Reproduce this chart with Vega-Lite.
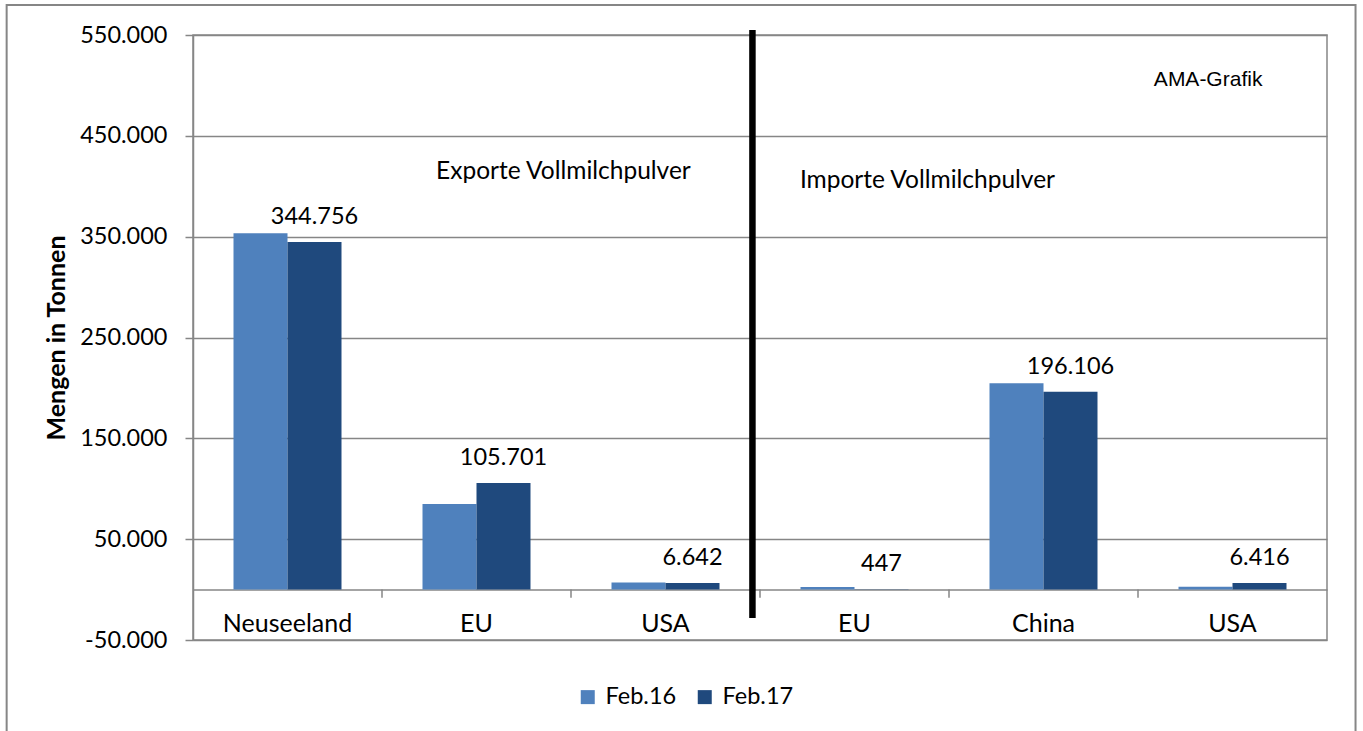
{
  "$schema": "https://vega.github.io/schema/vega-lite/v6.json",
  "width": 1134,
  "height": 605,
  "autosize": {"type": "none"},
  "padding": {"left": 193, "top": 35, "right": 36, "bottom": 91},
  "background": "white",
  "config": {
    "font": "Lato",
    "locale": {"number": {"decimal": ",", "thousands": ".", "grouping": [3], "currency": ["", " €"], "minus": "-"}},
    "view": {"stroke": "#868686", "strokeWidth": 1.5}
  },
  "datasets": {
    "bars": [
      {"cat": "Neuseeland", "period": "Feb.16", "value": 353300},
      {"cat": "Neuseeland", "period": "Feb.17", "value": 344756},
      {"cat": "EU (Export)", "period": "Feb.16", "value": 85000},
      {"cat": "EU (Export)", "period": "Feb.17", "value": 105701},
      {"cat": "USA (Export)", "period": "Feb.16", "value": 7100},
      {"cat": "USA (Export)", "period": "Feb.17", "value": 6642},
      {"cat": "EU (Import)", "period": "Feb.16", "value": 2600},
      {"cat": "EU (Import)", "period": "Feb.17", "value": 447},
      {"cat": "China", "period": "Feb.16", "value": 204600},
      {"cat": "China", "period": "Feb.17", "value": 196106},
      {"cat": "USA (Import)", "period": "Feb.16", "value": 2900},
      {"cat": "USA (Import)", "period": "Feb.17", "value": 6416}
    ],
    "separators": [{"b": 1}, {"b": 2}, {"b": 3}, {"b": 4}, {"b": 5}],
    "one": [{"k": 1}]
  },
  "layer": [
    {
      "data": {"name": "bars"},
      "mark": {"type": "bar"},
      "encoding": {
        "x": {
          "field": "cat", "type": "nominal", "sort": null,
          "scale": {"domain": ["Neuseeland", "EU (Export)", "USA (Export)", "EU (Import)", "China", "USA (Import)"], "paddingInner": 0.4286, "paddingOuter": 0.2143},
          "axis": {
            "title": null, "orient": "bottom", "offset": -50.4,
            "labelExpr": "split(datum.label, ' (')[0]",
            "labelAngle": 0, "labelFontSize": 25, "labelColor": "black", "labelFont": "Lato",
            "ticks": false, "labelPadding": 22,
            "domainColor": "#868686", "domainWidth": 1.5, "grid": false
          }
        },
        "xOffset": {"field": "period", "type": "nominal", "scale": {"domain": ["Feb.16", "Feb.17"], "paddingInner": 0, "paddingOuter": 0}},
        "y": {
          "field": "value", "type": "quantitative",
          "scale": {"domain": [-50000, 550000], "nice": false, "zero": false},
          "axis": {
            "values": [-50000, 50000, 150000, 250000, 350000, 450000, 550000],
            "format": ",.0f",
            "title": "Mengen in Tonnen", "titleFontSize": 25, "titleFontWeight": "bold", "titleColor": "black", "titlePadding": 10, "titleFont": "Lato",
            "labelFontSize": 23.5, "labelColor": "black", "labelPadding": 18, "labelFont": "Lato",
            "tickSize": 8, "tickColor": "#868686", "tickWidth": 1.5,
            "domainColor": "#868686", "domainWidth": 1.5,
            "grid": true, "gridColor": "#868686", "gridWidth": 1.5
          }
        },
        "color": {
          "field": "period", "type": "nominal",
          "scale": {"domain": ["Feb.16", "Feb.17"], "range": ["#4F81BD", "#1F497D"]},
          "legend": {
            "title": null, "orient": "none", "direction": "horizontal",
            "legendX": 383, "legendY": 650, "padding": 0,
            "symbolType": "square", "symbolSize": 196, "symbolStrokeWidth": 0,
            "labelFontSize": 23.5, "labelColor": "black", "labelFont": "Lato", "labelOffset": 6,
            "columnPadding": 16
          }
        }
      }
    },
    {
      "data": {"name": "bars"},
      "transform": [{"filter": "datum.period === 'Feb.17'"}],
      "mark": {"type": "text", "baseline": "alphabetic", "dy": -18, "dx": -27, "fontSize": 23.5, "font": "Lato", "color": "black"},
      "encoding": {
        "x": {"field": "cat", "type": "nominal", "sort": null,
          "scale": {"domain": ["Neuseeland", "EU (Export)", "USA (Export)", "EU (Import)", "China", "USA (Import)"], "paddingInner": 0.4286, "paddingOuter": 0.2143},
          "axis": null},
        "xOffset": {"field": "period", "type": "nominal", "scale": {"domain": ["Feb.16", "Feb.17"], "paddingInner": 0, "paddingOuter": 0}},
        "y": {"field": "value", "type": "quantitative", "scale": {"domain": [-50000, 550000], "nice": false, "zero": false}},
        "text": {"field": "value", "type": "quantitative", "format": ",.0f"}
      }
    },
    {
      "data": {"name": "separators"},
      "mark": {"type": "rule", "color": "#868686", "strokeWidth": 1.5},
      "encoding": {
        "x": {"field": "b", "type": "quantitative", "scale": {"domain": [0, 6], "nice": false, "zero": false}, "axis": null},
        "y": {"datum": 0, "type": "quantitative", "scale": {"domain": [-50000, 550000], "nice": false, "zero": false}},
        "y2": {"datum": -8000}
      }
    },
    {
      "data": {"name": "one"},
      "mark": {"type": "rule", "color": "black", "strokeWidth": 6.5},
      "encoding": {
        "x": {"datum": 2.96, "type": "quantitative", "scale": {"domain": [0, 6], "nice": false, "zero": false}, "axis": null},
        "y": {"datum": 555000, "type": "quantitative", "scale": {"domain": [-50000, 550000], "nice": false, "zero": false}},
        "y2": {"datum": -28200}
      }
    },
    {
      "data": {"name": "one"},
      "mark": {"type": "text", "fontSize": 24.5, "font": "Lato", "color": "black", "baseline": "middle", "align": "center", "text": "Exporte Vollmilchpulver"},
      "encoding": {
        "x": {"datum": 1.96, "type": "quantitative", "scale": {"domain": [0, 6], "nice": false, "zero": false}, "axis": null},
        "y": {"datum": 414000, "type": "quantitative", "scale": {"domain": [-50000, 550000], "nice": false, "zero": false}}
      }
    },
    {
      "data": {"name": "one"},
      "mark": {"type": "text", "fontSize": 24.5, "font": "Lato", "color": "black", "baseline": "middle", "align": "center", "text": "Importe Vollmilchpulver"},
      "encoding": {
        "x": {"datum": 3.886, "type": "quantitative", "scale": {"domain": [0, 6], "nice": false, "zero": false}, "axis": null},
        "y": {"datum": 405200, "type": "quantitative", "scale": {"domain": [-50000, 550000], "nice": false, "zero": false}}
      }
    },
    {
      "data": {"name": "one"},
      "mark": {"type": "text", "fontSize": 21, "font": "Liberation Sans", "color": "black", "baseline": "middle", "align": "center", "text": "AMA-Grafik"},
      "encoding": {
        "x": {"datum": 5.371, "type": "quantitative", "scale": {"domain": [0, 6], "nice": false, "zero": false}, "axis": null},
        "y": {"datum": 505400, "type": "quantitative", "scale": {"domain": [-50000, 550000], "nice": false, "zero": false}}
      }
    },
    {
      "data": {"name": "one"},
      "mark": {"type": "rect", "fill": null, "fillOpacity": 0, "stroke": "#868686", "strokeWidth": 2},
      "encoding": {
        "x": {"datum": -0.986, "type": "quantitative", "scale": {"domain": [0, 6], "nice": false, "zero": false}, "axis": null},
        "x2": {"datum": 6.151},
        "y": {"datum": 579800, "type": "quantitative", "scale": {"domain": [-50000, 550000], "nice": false, "zero": false}},
        "y2": {"datum": -150000}
      }
    }
  ],
  "resolve": {"scale": {"x": "independent", "xOffset": "independent"}, "axis": {"x": "independent"}}
}
